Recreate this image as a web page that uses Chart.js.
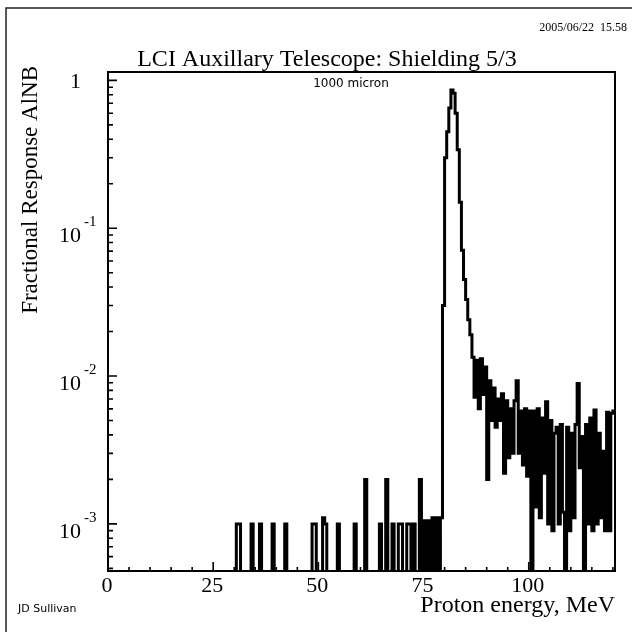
<!DOCTYPE html>
<html>
<head>
<meta charset="utf-8">
<script src="https://cdn.jsdelivr.net/npm/chart.js@4.4.0/dist/chart.umd.min.js"></script>
<style>
  html, body { margin: 0; padding: 0; background: #fff; }
  #wrap { position: relative; width: 636px; height: 632px; }
</style>
</head>
<body>
<div id="wrap"><canvas id="spectrum"></canvas></div>
<script>
// Histogram: 0.5 MeV bins, response = fraction of events
const binWidth = 0.5;
const energyMax = 120.5;
const responseMin = 4.8e-4;
const responseMax = 1.14;

// scattered counts below the peak (bin centre, MeV)
const lowEnergy = [30.75, 31.25, 34.25, 36.25, 39.25, 42.25, 48.75, 49.25, 51.25, 51.75,
  54.75, 58.75, 61.25, 64.75, 66.25, 67.75, 69.25, 69.75, 71.25, 71.75, 72.75, 74.25,
  75.25, 76.25, 77.25, 78.25];
const lowResponse = [0.001, 0.001, 0.001, 0.001, 0.001, 0.001, 0.001, 0.001, 0.0011, 0.001,
  0.001, 0.001, 0.002, 0.001, 0.002, 0.001, 0.001, 0.001, 0.001, 0.001, 0.001, 0.002,
  0.00105, 0.00105, 0.0011, 0.0011];

// contiguous bins from the peak to the end of the axis
const peakStart = 79.25;
const peakResponse = [
  0.0011, 0.03, 0.3, 0.45, 0.65, 0.86, 0.82, 0.6, 0.34, 0.15,      // 79.25 - 83.75
  0.071, 0.045, 0.033, 0.024, 0.019, 0.0134, 0.0072, 0.0128, 0.006, 0.0131, // 84.25 - 88.75
  0.0075, 0.0115, 0.002, 0.0093, 0.005, 0.0083, 0.0045, 0.007, 0.005, 0.0076, // 89.25 - 93.75
  0.0022, 0.0068, 0.0028, 0.006, 0.003, 0.0068, 0.0093, 0.003, 0.0058, 0.0025, // 94.25 - 98.75
  0.006, 0.0021, 0.0058, 0, 0.0058, 0.0013, 0.006, 0.0011, 0.0052, 0.0022,   // 99.25 - 103.75
  0.0067, 0.001, 0.005, 0.0009, 0.0041, 0.0045, 0.001, 0.0047, 0.0012, 0,    // 104.25 - 108.75
  0.0045, 0.0009, 0.0041, 0.0011, 0.0047, 0.0089, 0.0024, 0.0039, 0, 0.0047, // 109.25 - 113.75
  0.001, 0.0052, 0.0009, 0.0059, 0.001, 0.0041, 0.0011, 0.0031, 0.0009, 0.0057, // 114.25 - 118.75
  0.0009, 0.0056, 0.0058                                                      // 119.25 - 120.25
];

const xTickLabels = [0, 25, 50, 75, 100];
const yDecades = [0, -1, -2, -3];

// build the full bin list; empty bins sit far below the axis so they are clipped
const emptyLevel = 1e-6;
const points = [];
for (let e = binWidth / 2; e < energyMax; e += binWidth) {
  let v = 0;
  const k = lowEnergy.findIndex(c => Math.abs(c - e) < 1e-6);
  if (k >= 0) v = lowResponse[k];
  const j = Math.round((e - peakStart) / binWidth);
  if (j >= 0 && j < peakResponse.length) v = peakResponse[j];
  points.push({ x: e, y: v > 0 ? v : emptyLevel });
}

const serif = '"Liberation Serif", "DejaVu Serif", serif';
const sans = '"DejaVu Sans", "Liberation Sans", sans-serif';

const rootStyle = {
  id: 'rootStyle',
  beforeDraw(chart) {
    const ctx = chart.ctx;
    ctx.save();
    ctx.fillStyle = '#fff';
    ctx.fillRect(0, 0, chart.width, chart.height);
    // page border of the scan
    ctx.strokeStyle = '#222';
    ctx.lineWidth = 1.5;
    ctx.beginPath();
    ctx.moveTo(6, 632); ctx.lineTo(6, 8); ctx.lineTo(632, 8);
    ctx.stroke();
    ctx.restore();
  },
  afterDraw(chart) {
    const { ctx, chartArea: a, scales: { x, y } } = chart;
    ctx.save();
    ctx.strokeStyle = '#000';
    ctx.fillStyle = '#000';
    ctx.lineWidth = 2;
    ctx.strokeRect(a.left, a.top, a.right - a.left, a.bottom - a.top);

    // x ticks, inside the frame
    ctx.lineWidth = 1.6;
    ctx.beginPath();
    for (let e = 0; e <= energyMax; e += 5) {
      const px = x.getPixelForValue(e);
      const len = e % 25 === 0 ? 9 : 4;
      ctx.moveTo(px, a.bottom);
      ctx.lineTo(px, a.bottom - len);
    }
    // y ticks
    for (let d = -4; d <= 0; d++) {
      for (let m = 1; m <= 9; m++) {
        const v = m * Math.pow(10, d);
        if (v < responseMin || v > responseMax) continue;
        const py = y.getPixelForValue(v);
        ctx.moveTo(a.left, py);
        ctx.lineTo(a.left + (m === 1 ? 9 : 5), py);
      }
    }
    ctx.stroke();

    // x labels
    ctx.font = '22px ' + serif;
    ctx.textAlign = 'center';
    ctx.textBaseline = 'top';
    xTickLabels.forEach(t => ctx.fillText(String(t), x.getPixelForValue(t) - 1, a.bottom + 4));

    // y labels, 10 with raised exponent
    yDecades.forEach(d => {
      const py = y.getPixelForValue(Math.pow(10, d));
      ctx.textBaseline = 'middle';
      if (d === 0) {
        ctx.font = '22px ' + serif;
        ctx.textAlign = 'right';
        ctx.fillText('1', 81, py + 2);
      } else {
        ctx.font = '22px ' + serif;
        ctx.textAlign = 'right';
        ctx.fillText('10', 81, py + 8);
        ctx.font = '15px ' + serif;
        ctx.textAlign = 'left';
        ctx.fillText(String(d), 84, py - 6);
      }
    });

    // axis titles
    ctx.font = '24px ' + serif;
    ctx.textAlign = 'right';
    ctx.textBaseline = 'alphabetic';
    ctx.fillText('Proton energy, MeV', a.right, 612);

    ctx.save();
    ctx.translate(37, 66);
    ctx.rotate(-Math.PI / 2);
    ctx.textAlign = 'right';
    ctx.font = '23px ' + serif;
    ctx.fillText('Fractional Response AlNB', 0, 0);
    ctx.restore();

    // titles and stamps
    ctx.textAlign = 'center';
    ctx.font = '24px ' + serif;
    ctx.fillText('LCI Auxillary Telescope: Shielding 5/3', 327, 66);
    ctx.font = '12px ' + serif;
    ctx.textAlign = 'right';
    ctx.fillText('2005/06/22  15.58', 627, 31);
    ctx.font = '12px ' + sans;
    ctx.textAlign = 'center';
    ctx.fillText('1000 micron', 351, 87);
    ctx.font = '11px ' + sans;
    ctx.textAlign = 'left';
    ctx.fillText('JD Sullivan', 18, 612);
    ctx.restore();
  }
};

new Chart(document.getElementById('spectrum').getContext('2d'), {
  type: 'line',
  data: {
    datasets: [{
      label: 'Fractional Response AlNB',
      data: points,
      stepped: 'middle',
      borderColor: '#000',
      borderWidth: 3,
      pointRadius: 0,
      fill: false
    }]
  },
  options: {
    responsive: true,
    maintainAspectRatio: false,
    animation: false,
    layout: { padding: { left: 108, right: 21, top: 72, bottom: 61 } },
    scales: {
      x: { type: 'linear', min: 0, max: energyMax, display: false },
      y: { type: 'logarithmic', min: responseMin, max: responseMax, display: false }
    },
    plugins: {
      legend: { display: false },
      tooltip: { enabled: false }
    }
  },
  plugins: [rootStyle]
});
</script>
</body>
</html>
